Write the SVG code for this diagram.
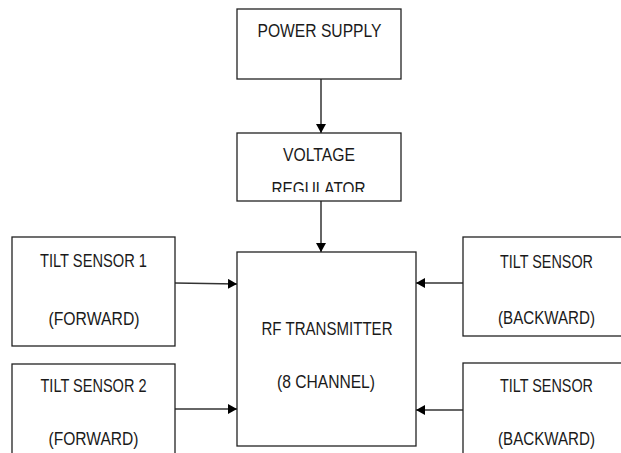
<svg xmlns="http://www.w3.org/2000/svg" width="621" height="453" viewBox="0 0 621 453">
<style>
.box{fill:#fff;stroke:#222;stroke-width:1.3}
.lbl{font-family:"Liberation Sans",Arial,sans-serif;font-size:18px;fill:#1a1a1a;text-anchor:middle}
.con{stroke:#333;stroke-width:1.5;fill:none;marker-end:url(#ah)}
</style>
<defs>
<marker id="ah" markerUnits="userSpaceOnUse" markerWidth="9" markerHeight="10" viewBox="0 0 9 10" refX="9" refY="5" orient="auto">
<path d="M0,0 L9,5 L0,10 z" fill="#000"/>
</marker>
<clipPath id="vrclip"><rect x="237" y="133" width="164" height="59"/></clipPath>
</defs>
<rect width="621" height="453" fill="#fff"/>
<g id="connectors">
<line class="con" x1="321" y1="79" x2="321" y2="133"/>
<line class="con" x1="321" y1="201" x2="321" y2="252"/>
<line class="con" x1="175" y1="283" x2="237" y2="284"/>
<line class="con" x1="175" y1="409" x2="237" y2="409"/>
<line class="con" x1="463" y1="283" x2="416" y2="283"/>
<line class="con" x1="463" y1="410" x2="416" y2="410"/>
</g>
<g id="power-supply">
<rect class="box" x="237" y="9" width="164" height="70"/>
<text class="lbl" x="319.5" y="37" textLength="124" lengthAdjust="spacingAndGlyphs">POWER  SUPPLY</text>
</g>
<g id="voltage-regulator">
<rect class="box" x="237" y="133" width="164" height="68"/>
<text class="lbl" x="319" y="160.5" textLength="72" lengthAdjust="spacingAndGlyphs">VOLTAGE</text>
<text class="lbl" x="318.5" y="194.5" textLength="94" lengthAdjust="spacingAndGlyphs" clip-path="url(#vrclip)">REGULATOR</text>
</g>
<g id="tilt-sensor-1">
<rect class="box" x="12" y="237" width="163" height="109"/>
<text class="lbl" x="93.5" y="267" textLength="107" lengthAdjust="spacingAndGlyphs">TILT SENSOR 1</text>
<text class="lbl" x="94" y="324.5" textLength="91" lengthAdjust="spacingAndGlyphs">(FORWARD)</text>
</g>
<g id="tilt-sensor-2">
<rect class="box" x="12" y="364" width="163" height="100"/>
<text class="lbl" x="93.5" y="392" textLength="106" lengthAdjust="spacingAndGlyphs">TILT SENSOR 2</text>
<text class="lbl" x="93.5" y="444.5" textLength="90" lengthAdjust="spacingAndGlyphs">(FORWARD)</text>
</g>
<g id="rf-transmitter">
<rect class="box" x="237" y="252" width="179" height="194"/>
<text class="lbl" x="327" y="334.5" textLength="131" lengthAdjust="spacingAndGlyphs">RF TRANSMITTER</text>
<text class="lbl" x="326" y="387.5" textLength="98" lengthAdjust="spacingAndGlyphs">(8 CHANNEL)</text>
</g>
<g id="tilt-sensor-backward-1">
<rect class="box" x="463" y="237" width="170" height="99"/>
<text class="lbl" x="546.5" y="267.5" textLength="93" lengthAdjust="spacingAndGlyphs">TILT SENSOR</text>
<text class="lbl" x="546.5" y="323.5" textLength="97" lengthAdjust="spacingAndGlyphs">(BACKWARD)</text>
</g>
<g id="tilt-sensor-backward-2">
<rect class="box" x="463" y="363" width="170" height="100"/>
<text class="lbl" x="546.5" y="391.5" textLength="93" lengthAdjust="spacingAndGlyphs">TILT SENSOR</text>
<text class="lbl" x="546.5" y="444.5" textLength="97" lengthAdjust="spacingAndGlyphs">(BACKWARD)</text>
</g>
</svg>
